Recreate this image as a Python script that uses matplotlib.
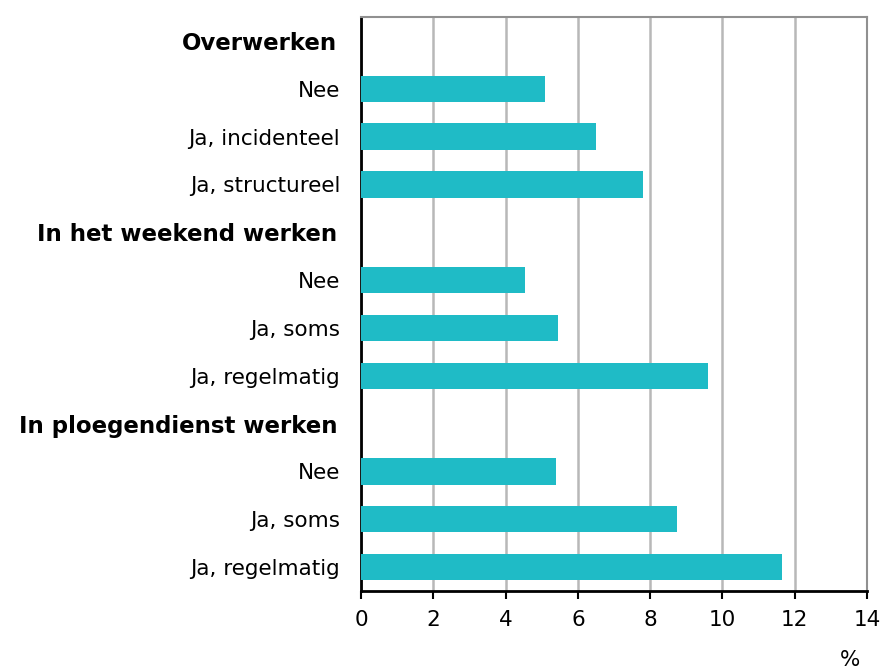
import matplotlib
matplotlib.use("Agg")
import matplotlib.pyplot as plt

labels = ["Overwerken", "Nee", "Ja, incidenteel", "Ja, structureel",
          "In het weekend werken", "Nee", "Ja, soms", "Ja, regelmatig",
          "In ploegendienst werken", "Nee", "Ja, soms", "Ja, regelmatig"]
is_header = [True, False, False, False, True, False, False, False, True, False, False, False]
values = [None, 5.1, 6.5, 7.8, None, 4.55, 5.45, 9.6, None, 5.4, 8.75, 11.65]
xticks = [0, 2, 4, 6, 8, 10, 12, 14]

bar_color = "#1FBBC6"
font = ["DejaVu Sans"]

fig = plt.figure(figsize=(8.84, 6.70), dpi=100)
ax = fig.add_axes([0.4084, 0.1179, 0.9808 - 0.4084, 0.9746 - 0.1179])

n = len(labels)
ys = list(range(n))
bx = [y for y, v in zip(ys, values) if v is not None]
bv = [v for v in values if v is not None]
ax.barh(bx, bv, height=0.55, color=bar_color, zorder=3)

ax.set_xlim(0, 14)
ax.set_ylim(n - 0.5, -0.5)
ax.set_xticks(xticks)
ax.set_xticklabels([str(t) for t in xticks], fontsize=15.5, family=font)
ax.set_yticks(ys)
ax.set_yticklabels(labels, fontsize=15.5, family=font)
for lbl, h in zip(ax.get_yticklabels(), is_header):
    if h:
        lbl.set_fontweight("bold")
        lbl.set_fontsize(16.5)
        lbl.set_x(-0.006)
ax.tick_params(axis="y", length=0, pad=15)
ax.tick_params(axis="x", length=6, width=1.5, direction="out", pad=8, color="black")

ax.grid(axis="x", color="#B8B8B8", linewidth=1.8, zorder=0)
ax.spines["left"].set_color("black")
ax.spines["left"].set_linewidth(2)
ax.spines["bottom"].set_color("black")
ax.spines["bottom"].set_linewidth(2)
ax.spines["top"].set_color("#909090")
ax.spines["top"].set_linewidth(1.5)
ax.spines["right"].set_color("#909090")
ax.spines["right"].set_linewidth(1.5)

fig.text(850 / 884, 1 - 660 / 670, "%", fontsize=15.5, family=font, ha="center", va="center")

fig.savefig("out.png", dpi=100)
